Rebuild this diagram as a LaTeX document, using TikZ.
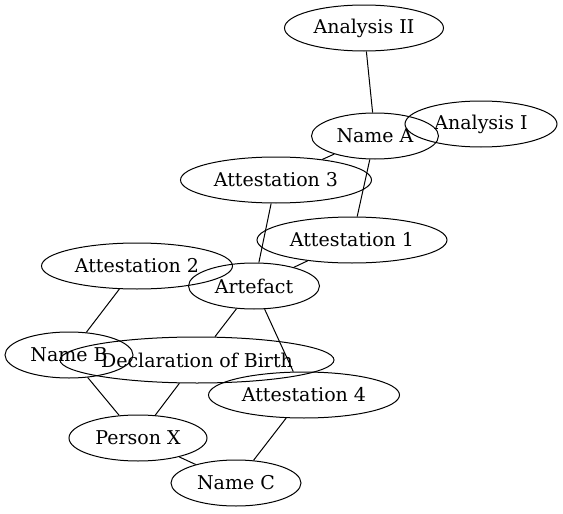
\documentclass[tikz,border=0pt]{standalone}
\usepackage{fontspec}
\setmainfont{DejaVu Serif}
\usetikzlibrary{shapes.geometric}

\tikzset{
  rec/.style={draw,ellipse,inner sep=0pt,minimum height=46pt,line width=1pt,
    font=\fontsize{19}{22}\selectfont},
  lnk/.style={line width=1pt}
}

\begin{document}
\begin{tikzpicture}[x=1pt,y=-1pt]
      \useasboundingbox (0,0) rectangle (563,514);

      % names and analyses
      \node[rec,minimum width=159pt] (an2) at (364,28) {Analysis II};
      \node[rec,minimum width=127pt] (nma) at (375,136) {Name A};
      \node[rec,minimum width=152pt] (an1) at (481,124) {Analysis I};

      % attestations
      \node[rec,minimum width=191pt] (at3) at (276,180) {Attestation 3};
      \node[rec,minimum width=190pt] (at1) at (352,240) {Attestation 1};
      \node[rec,minimum width=191pt] (at2) at (137,266) {Attestation 2};
      \node[rec,minimum width=131pt] (art) at (254,286) {Artefact};

      % lower part
      \node[rec,minimum width=128pt] (nmb) at (69,355) {Name B};
      \node[rec,minimum width=274pt] (dob) at (197,360) {Declaration of Birth};
      \node[rec,minimum width=191pt] (at4) at (304,395) {Attestation 4};
      \node[rec,minimum width=138pt] (psx) at (138,438) {Person X};
      \node[rec,minimum width=130pt] (nmc) at (236,483) {Name C};

      % links
      \draw[lnk] (an2) to (nma);
      \draw[lnk] (nma) to (at3) (nma) to (at1);
      \draw[lnk] (at3) to (art) (at1) to (art);
      \draw[lnk] (at2) to (nmb);
      \draw[lnk] (art) to (dob) (art) to (at4);
      \draw[lnk] (nmb) to (psx) (dob) to (psx);
      \draw[lnk] (at4) to (nmc) (psx) to (nmc);

\end{tikzpicture}
\end{document}
